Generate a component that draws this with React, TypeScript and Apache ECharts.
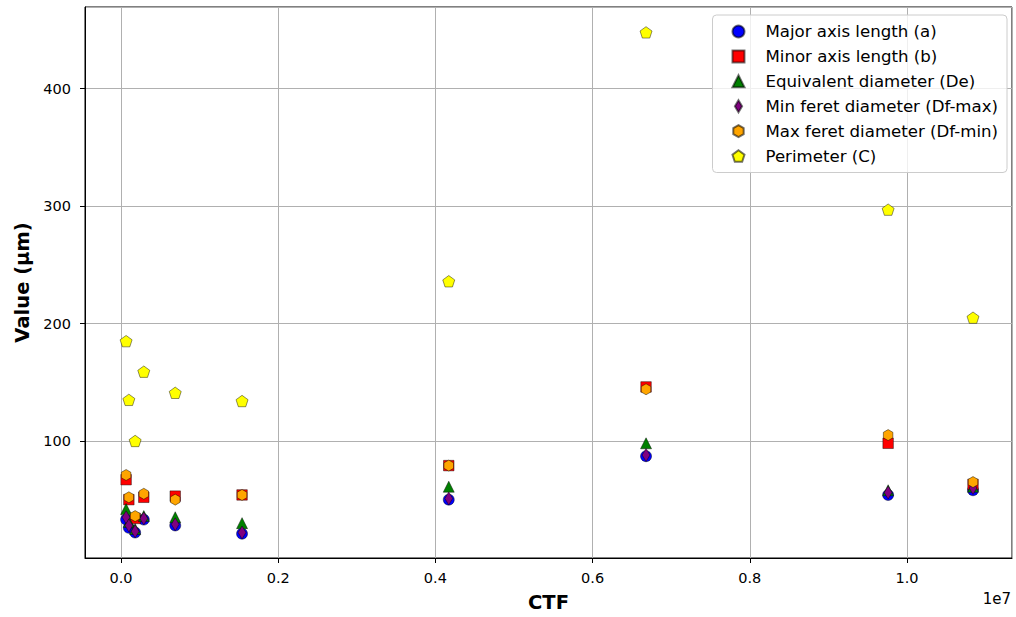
import React, { useEffect, useRef } from "react";
import * as echarts from "echarts";

const ctf = [65000, 100000, 180000, 290000, 690000, 1540000, 4170000, 6680000, 9760000, 10840000];
const majorAxis = [33, 26, 22, 33, 28, 21, 50, 87, 54, 58];
const minorAxis = [67, 50, 34, 52, 53, 54, 79, 146, 98, 63];
const equivDiameter = [42, 31, 25, 36, 35, 30, 61, 98, 58, 61];
const minFeret = [35, 28, 23, 34, 29, 22, 51, 88, 56, 60];
const maxFeret = [71, 52, 36, 55, 50, 54, 79, 144, 105, 65];
const perimeter = [185, 135, 100, 159, 141, 134, 236, 448, 297, 205];

const seriesNames = [
  "Major axis length (a)",
  "Minor axis length (b)",
  "Equivalent diameter (De)",
  "Min feret diameter (Df-max)",
  "Max feret diameter (Df-min)",
  "Perimeter (C)",
];

const HEX = "path://M0,-1 L0.866,-0.5 L0.866,0.5 L0,1 L-0.866,0.5 L-0.866,-0.5 Z";
const PENT = "path://M0,-1 L0.951,-0.309 L0.588,0.809 L-0.588,0.809 L-0.951,-0.309 Z";
const THIN_DIAMOND = "path://M0,-1 L0.6,0 L0,1 L-0.6,0 Z";

const FONT = "DejaVu Sans";

export default function App() {
  const ref = useRef<HTMLDivElement>(null);
  useEffect(() => {
    if (!ref.current) return;
    const chart = echarts.init(ref.current, null, { renderer: "svg" });
    const values = [majorAxis, minorAxis, equivDiameter, minFeret, maxFeret, perimeter];
    const symbols = ["circle", "rect", "triangle", THIN_DIAMOND, HEX, PENT];
    const sizes = [11, 10.5, 11, 13, 11, 12];
    const colors = ["#0000ff", "#ff0000", "#008000", "#800080", "#ffa500", "#ffff00"];
    const series = seriesNames.map((name, k) => ({
      name,
      type: "scatter",
      symbol: symbols[k],
      symbolSize: sizes[k],
      symbolKeepAspect: true,
      itemStyle: {
        color: colors[k],
        borderColor: "rgba(0,0,0,0.55)",
        borderWidth: 0.8,
        opacity: 1,
      },
      data: ctf.map((x, i) => [x, values[k][i]]),
    }));
    chart.setOption({
      animation: false,
      textStyle: { fontFamily: FONT },
      grid: {
        left: 85,
        right: 4,
        top: 7,
        bottom: 55,
        show: true,
        borderColor: "#000",
        borderWidth: 1,
      },
      legend: {
        orient: "vertical",
        right: 9,
        top: 15,
        padding: [8, 9, 8, 19],
        itemWidth: 12,
        itemHeight: 12,
        itemGap: 7.9,
        backgroundColor: "rgba(255,255,255,0.8)",
        borderColor: "#cccccc",
        borderWidth: 1,
        borderRadius: 4,
        textStyle: {
          fontFamily: FONT,
          fontSize: 16.6,
          color: "#000",
          padding: [0, 0, 0, 16],
        },
        data: seriesNames.map((name, k) => ({ name, icon: symbols[k] })),
      },
      xAxis: {
        type: "value",
        min: -458000,
        max: 11336000,
        splitNumber: 5,
        name: "CTF",
        nameLocation: "middle",
        nameGap: 34,
        nameTextStyle: { fontFamily: FONT, fontSize: 19.5, fontWeight: "bold", color: "#000" },
        axisLine: { show: true, onZero: false, lineStyle: { color: "#000", width: 1 } },
        axisTick: { show: true, length: 5, lineStyle: { color: "#000" } },
        axisLabel: {
          fontFamily: FONT,
          fontSize: 14.5,
          color: "#000",
          margin: 12,
          showMinLabel: false,
          showMaxLabel: false,
          formatter: (v: number) => (v / 1e7).toFixed(1),
        },
        splitLine: { show: true, lineStyle: { color: "#b0b0b0", width: 1 } },
      },
      yAxis: {
        type: "value",
        min: 0.3,
        max: 469.6,
        splitNumber: 5,
        name: "Value (µm)",
        nameLocation: "middle",
        nameGap: 53,
        nameTextStyle: { fontFamily: FONT, fontSize: 19.5, fontWeight: "bold", color: "#000" },
        axisLine: { show: true, onZero: false, lineStyle: { color: "#000", width: 1 } },
        axisTick: { show: true, length: 5, lineStyle: { color: "#000" } },
        axisLabel: {
          fontFamily: FONT,
          fontSize: 14.5,
          color: "#000",
          margin: 14,
          showMinLabel: false,
          showMaxLabel: false,
        },
        splitLine: { show: true, lineStyle: { color: "#b0b0b0", width: 1 } },
      },
      graphic: [
        {
          type: "text",
          right: 5,
          top: 591,
          style: { text: "1e7", font: `15px "${FONT}"`, fill: "#000" },
        },
      ],
      series,
    });
    return () => chart.dispose();
  }, []);
  return (
    <div
      ref={ref}
      style={{ position: "absolute", left: 0, top: 0, width: 1016, height: 617 }}
    />
  );
}
